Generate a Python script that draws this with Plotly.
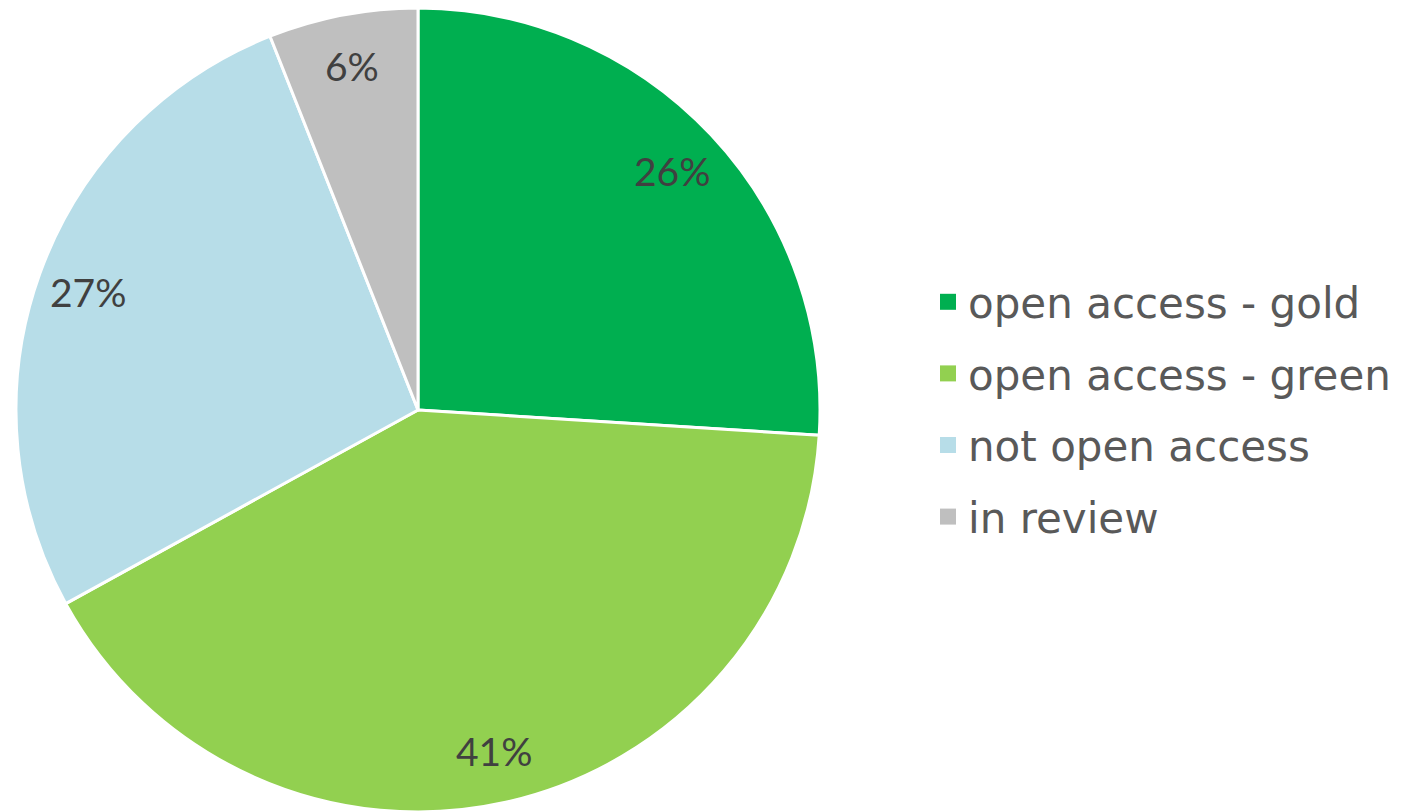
import math
import plotly.graph_objects as go

# Share of publications by access status
categories = ["open access - gold", "open access - green", "not open access", "in review"]
shares = [26, 41, 27, 6]
colors = ["#00AF50", "#92D050", "#B7DDE8", "#BFBFBF"]

W, H = 1413, 812
cx, cy, R = 418, 410, 402

fig = go.Figure()
fig.add_trace(go.Pie(
    labels=categories,
    values=shares,
    sort=False,
    direction="clockwise",
    rotation=0,
    marker=dict(colors=colors, line=dict(color="white", width=3)),
    textinfo="none",
    hoverinfo="label+percent",
    showlegend=False,
    domain=dict(x=[(cx - R) / W, (cx + R) / W], y=[0, 2 * R / H]),
))

# Legend entries as square markers
for name, col in zip(categories, colors):
    fig.add_trace(go.Scatter(
        x=[None], y=[None], mode="markers", name=name,
        marker=dict(symbol="square", size=16, color=col),
        legendgroup=name, showlegend=True,
    ))

# Percentage labels placed along each slice's mid-angle
total = sum(shares)
acc = 0
for v in shares:
    mid = (acc + v / 2) / total * 2 * math.pi
    acc += v
    r = 0.87 * R
    px = cx + r * math.sin(mid)
    py = cy - r * math.cos(mid)
    fig.add_annotation(
        x=px / W, y=1 - py / H, xref="paper", yref="paper",
        xanchor="center", yanchor="middle",
        text=f"{v}%", showarrow=False,
        font=dict(family="Lato", size=39, color="#404040"),
    )

fig.update_layout(
    width=W, height=H,
    margin=dict(l=0, r=0, t=0, b=0),
    paper_bgcolor="white", plot_bgcolor="white",
    xaxis=dict(visible=False), yaxis=dict(visible=False),
    legend=dict(
        x=928 / W, y=1 - 268 / H, xanchor="left", yanchor="top",
        font=dict(family="DejaVu Sans", size=42, color="#595959"),
        tracegroupgap=14, itemwidth=30,
        bgcolor="rgba(0,0,0,0)",
    ),
)

fig.write_html("out.html")
